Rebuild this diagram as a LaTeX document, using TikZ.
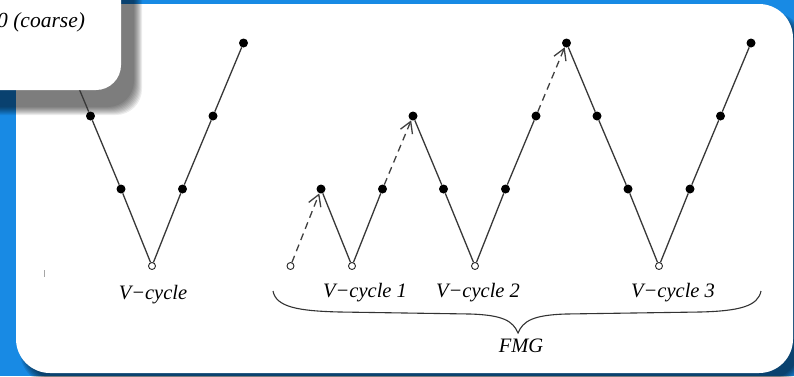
\documentclass[tikz,border=0pt]{standalone}
\usepackage{fontspec}
\setmainfont{Liberation Serif}
\usetikzlibrary{arrows.meta}
\definecolor{bgblue}{RGB}{24,138,228}
\begin{document}
\begin{tikzpicture}[x=1pt,y=-1pt]
\tikzset{
  dot/.style={circle, fill=black, inner sep=0pt, minimum size=9pt},
  hollow/.style={circle, draw=black!85, fill=white, line width=0.9pt, inner sep=0pt, minimum size=7pt},
  vline/.style={draw=black!78, line width=1.3pt},
  jump/.style={draw=black!75, line width=1.3pt, dash pattern=on 7pt off 5pt, -{Straight Barb[length=11pt,width=13pt]}},
  lbl/.style={font=\fontsize{20.5}{24}\selectfont\itshape, inner sep=0pt},
  clbl/.style={font=\fontsize{21.5}{25}\selectfont\itshape, inner sep=0pt},
}
\useasboundingbox (0,0) rectangle (794,376);
% background
\fill[bgblue] (0,0) rectangle (794,376);
% card shadow
\foreach \d in {0,1,2,3,4,5}
  \fill[black, opacity=0.11, rounded corners=34pt] (20+\d,12+\d) rectangle (805-\d,385-\d);
% card
\fill[white, rounded corners=34pt] (16,4) rectangle (793,373);
% small box shadow
\foreach \d in {0,1,2,3,4,5,6,7,8}
  \fill[black, opacity=0.075, rounded corners=26pt] (-30,-30) rectangle (142-\d,115-\d);

% stray mark
\draw[black!35, line width=0.8pt] (44,270) -- (44,277);

% ---- V-cycle (left)
\coordinate (L0) at (60,43);
\node[dot] (L1) at (90.5,116) {};
\node[dot] (L2) at (121,189) {};
\node[hollow] (Lb) at (152,266) {};
\node[dot] (L3) at (182.5,189) {};
\node[dot] (L4) at (213,116) {};
\node[dot] (L5) at (243.5,43) {};
\draw[vline] (L0) -- (L1) -- (L2) -- (Lb) -- (L3) -- (L4) -- (L5);

% ---- FMG
\node[hollow] (F0) at (290.5,266) {};
\node[dot] (A1) at (321,189) {};
\node[hollow] (Ab) at (352,266) {};
\node[dot] (A2) at (382.5,189) {};
\node[dot] (B1) at (413,116) {};
\node[dot] (B2) at (443.5,189) {};
\node[hollow] (Bb) at (475,266) {};
\node[dot] (B3) at (505.5,189) {};
\node[dot] (B4) at (536,116) {};
\node[dot] (C1) at (566.5,43) {};
\node[dot] (C2) at (597,116) {};
\node[dot] (C3) at (628,189) {};
\node[hollow] (Cb) at (659,266) {};
\node[dot] (C4) at (690,189) {};
\node[dot] (C5) at (720.5,116) {};
\node[dot] (C6) at (751,43) {};

\draw[vline] (A1) -- (Ab) -- (A2);
\draw[vline] (B1) -- (B2) -- (Bb) -- (B3) -- (B4);
\draw[vline] (C1) -- (C2) -- (C3) -- (Cb) -- (C4) -- (C5) -- (C6);
\draw[jump] (F0) -- (A1);
\draw[jump] (A2) -- (B1);
\draw[jump] (B4) -- (C1);

% labels
\node[lbl] (t0) at (153,295) {V−cycle};
\node[lbl] (t1) at (365,293) {V−cycle 1};
\node[lbl] (t2) at (478,293) {V−cycle 2};
\node[lbl] (t3) at (673,293) {V−cycle 3};

% brace
\coordinate (bl) at (273,291);
\coordinate (bt) at (518,333);
\coordinate (br) at (761,291);
\draw[black!80, line width=1.1pt]
  (bl) .. controls (276,307) and (298,311) .. (340,312)
  -- (470,314) .. controls (503,315) and (513,321) .. (bt)
  .. controls (523,321) and (533,315) .. (566,314)
  -- (700,312) .. controls (740,311) and (758,306) .. (br);
\node[lbl] (fmg) at (521,346) {FMG};

% small box (on top)
\fill[white, rounded corners=25pt] (-40,-40) rectangle (121,90);
\node[clbl, anchor=base west] (coarse) at (-3,27) {0 (coarse)};
\end{tikzpicture}
\end{document}
